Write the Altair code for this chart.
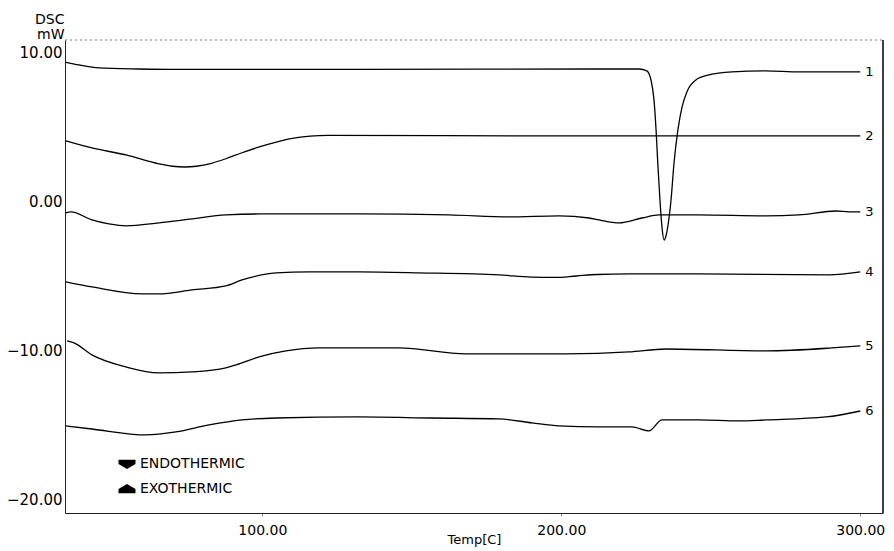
import altair as alt
import pandas as pd

# ---- data (temperature in C, DSC in mW) ----
curve_names = ["1", "2", "3", "4", "5", "6"]

T1 = [34.0, 38.7, 45.4, 58.7, 72.1, 132.3, 212.6, 226.0, 228.6, 230.0, 231.0, 231.7, 232.3, 233.0,
      233.7, 234.4, 235.0, 235.7, 236.7, 237.7, 239.0, 240.4, 242.0, 245.0, 249.4, 257.1, 268.4, 279.5, 300.0]
V1 = [9.39, 9.19, 8.99, 8.92, 8.89, 8.89, 8.92, 8.92, 8.79, 8.18, 6.84, 4.82, 2.47, 0.11,
      -1.77, -2.58, -2.31, -1.57, 0.11, 2.60, 4.82, 6.37, 7.38, 8.18, 8.52, 8.72, 8.79, 8.72, 8.72]

T2 = [34.3, 43.0, 54.4, 65.4, 70.0, 74.0, 78.0, 83.0, 88.0, 93.0, 99.0, 105.0, 110.0, 116.0, 122.0, 200.0, 300.0]
V2 = [4.08, 3.61, 3.14, 2.54, 2.38, 2.33, 2.38, 2.58, 2.90, 3.27, 3.68, 4.02, 4.25, 4.40, 4.45, 4.42, 4.42]

T3 = [34.3, 36.0, 43.0, 48.7, 54.4, 65.4, 76.5, 87.8, 98.9, 132.3, 162.4, 182.5, 199.2, 209.3,
      212.6, 219.3, 227.0, 232.7, 246.0, 268.4, 279.5, 291.9, 296.2, 300.0]
V3 = [-0.76, -0.69, -1.23, -1.50, -1.63, -1.43, -1.16, -0.89, -0.83, -0.83, -0.89, -1.03, -0.96, -1.10,
      -1.23, -1.43, -1.10, -0.89, -0.89, -0.96, -0.89, -0.63, -0.69, -0.69]

T4 = [34.3, 43.0, 59.8, 65.4, 76.5, 87.8, 93.2, 104.6, 115.6, 132.3, 152.4, 179.2, 190.0, 198.0,
      205.0, 212.0, 222.6, 246.0, 289.5, 300.0]
V4 = [-5.40, -5.74, -6.21, -6.21, -5.94, -5.67, -5.27, -4.79, -4.73, -4.73, -4.79, -4.93, -5.08, -5.10,
      -5.00, -4.90, -4.86, -4.86, -4.93, -4.73]

T5 = [34.7, 37.0, 43.0, 54.4, 65.4, 76.5, 87.8, 91.2, 98.9, 107.9, 118.9, 132.3, 145.7, 168.1,
      190.2, 201.6, 222.6, 235.0, 268.4, 290.5, 300.0]
V5 = [-9.37, -9.50, -10.31, -11.12, -11.52, -11.45, -11.18, -10.98, -10.44, -10.04, -9.84, -9.84, -9.84, -10.24,
      -10.24, -10.24, -10.11, -9.91, -10.04, -9.84, -9.70]

T6 = [34.3, 43.0, 61.1, 71.1, 82.2, 93.2, 104.6, 132.3, 156.7, 179.2, 190.2, 199.2, 212.6, 223.6,
      229.3, 233.7, 246.0, 259.4, 268.4, 288.5, 300.0]
V6 = [-15.08, -15.29, -15.69, -15.49, -15.02, -14.68, -14.55, -14.48, -14.55, -14.61, -14.88, -15.08, -15.15, -15.15,
      -15.42, -14.68, -14.68, -14.75, -14.68, -14.48, -14.08]

x_ticks = [100, 200, 300]
y_ticks = [10, 0, -10, -20]
legend_labels = ["ENDOTHERMIC", "EXOTHERMIC"]

temps = [T1, T2, T3, T4, T5, T6]
vals = [V1, V2, V3, V4, V5, V6]

rows = []
for name, ts, vs in zip(curve_names, temps, vals):
    for t, v in zip(ts, vs):
        rows.append({"curve": name, "temp": t, "dsc": v})
df = pd.DataFrame(rows)

ends = pd.DataFrame({
    "curve": curve_names,
    "temp": [ts[-1] for ts in temps],
    "dsc": [vs[-1] for vs in vals],
})

W, H = 818, 473
FONT = "DejaVu Sans"

x_enc = alt.X(
    "temp:Q",
    scale=alt.Scale(domain=[34, 307.6], nice=False, zero=False),
    axis=alt.Axis(values=x_ticks, format=".2f", title="Temp[C]", labelFontSize=14,
                  tickSize=3, labelPadding=7, labelBaseline="top",
                  titleY=20, titleBaseline="top", titleFontSize=13,
                  domainColor="#222222", tickColor="#888888"),
)
y_enc = alt.Y(
    "dsc:Q",
    scale=alt.Scale(domain=[-20.94, 10.87], nice=False, zero=False),
    axis=alt.Axis(values=y_ticks, format=".2f", title=["DSC", "mW"], labelFontSize=15,
                  titleAngle=0, titleAlign="right", titleBaseline="top",
                  titleX=-1, titleY=-28, titleLineHeight=15, titleFontSize=14,
                  tickSize=0, labelPadding=3, domainColor="#222222"),
)

lines = alt.Chart(df).mark_line(color="black", strokeWidth=1.3, interpolate="monotone").encode(
    x=x_enc, y=y_enc, detail="curve:N"
)

labels = alt.Chart(ends).mark_text(align="left", dx=5, fontSize=13, font=FONT, color="black").encode(
    x="temp:Q", y="dsc:Q", text="curve:N"
)

one = pd.DataFrame({"a": [0]})
top_border = alt.Chart(one).mark_rule(color="#777777", strokeDash=[2, 3], strokeWidth=1).encode(
    x=alt.value(0), x2=alt.value(W), y=alt.value(0)
)
right_border = alt.Chart(one).mark_rule(color="black", strokeWidth=1.5).encode(
    x=alt.value(W), y=alt.value(0), y2=alt.value(H)
)

endo_marker = alt.Chart(one).mark_point(
    shape="M-1,-0.5L1,-0.5L1,0L0,0.6L-1,0Z", filled=True, color="black", size=289, opacity=1
).encode(x=alt.value(62), y=alt.value(424))
exo_marker = alt.Chart(one).mark_point(
    shape="M-1,0.5L1,0.5L1,0L0,-0.6L-1,0Z", filled=True, color="black", size=289, opacity=1
).encode(x=alt.value(62), y=alt.value(449))
endo_text = alt.Chart(one).mark_text(align="left", baseline="middle", fontSize=14, font=FONT, color="black").encode(
    x=alt.value(75), y=alt.value(424), text=alt.value(legend_labels[0])
)
exo_text = alt.Chart(one).mark_text(align="left", baseline="middle", fontSize=14, font=FONT, color="black").encode(
    x=alt.value(75), y=alt.value(449), text=alt.value(legend_labels[1])
)

chart = alt.layer(
    top_border, right_border, lines, labels, endo_marker, exo_marker, endo_text, exo_text
).properties(
    width=W, height=H,
    autosize=alt.AutoSizeParams(type="none"),
    padding={"left": 57, "top": 32, "right": 3, "bottom": 36},
    background="white",
).configure_view(stroke=None).configure_axis(
    grid=False, labelFont=FONT, titleFont=FONT,
    labelColor="black", titleColor="black", titleFontWeight="normal",
)

chart.save("out.html", embed_options={"renderer": "svg", "actions": False})
